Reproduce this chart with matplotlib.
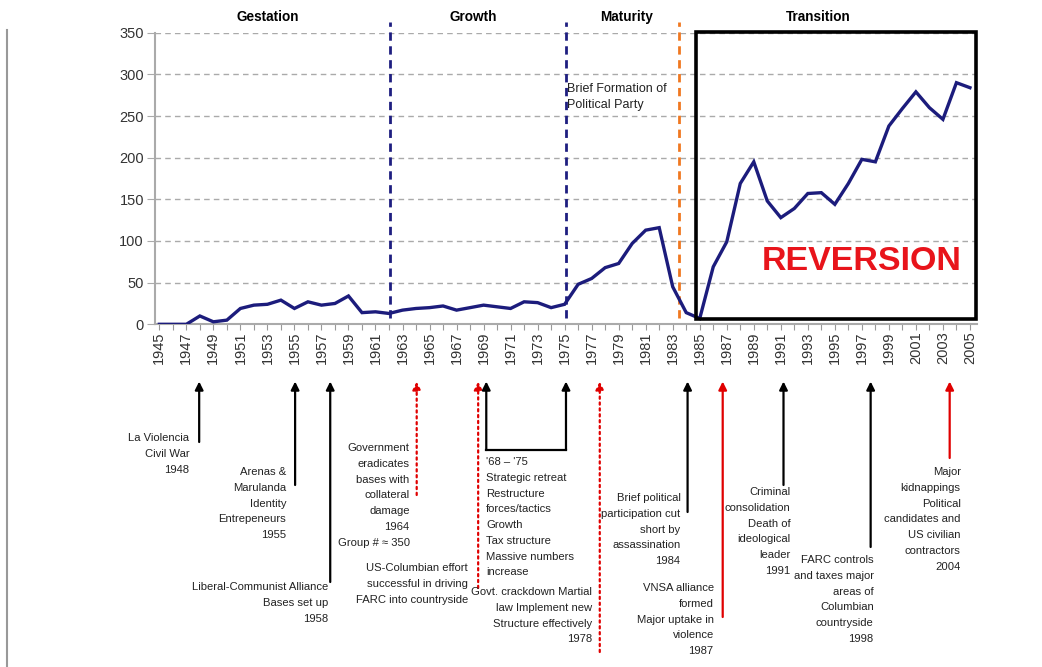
import matplotlib
matplotlib.use('Agg')
import matplotlib.pyplot as plt
from matplotlib import font_manager, transforms
from matplotlib.patches import Rectangle
from matplotlib.lines import Line2D

W, H = 1042, 667

# data
years = list(range(1945, 2006))
values = [0, 0, 0, 10, 3, 5, 19, 23, 24, 29,
          19, 27, 23, 25, 34, 14, 15, 13, 17, 19,
          20, 22, 17, 20, 23, 21, 19, 27, 26, 20,
          24, 48, 55, 68, 73, 97, 113, 116, 45, 14,
          7, 69, 99, 169, 195, 148, 128, 139, 157, 158,
          144, 169, 198, 195, 238, 259, 279, 260, 246, 290,
          284]

phases = ["Gestation", "Growth", "Maturity", "Transition"]
phase_pos = [1953.0, 1968.2, 1979.6, 1993.8]

boundaries = [1962.1, 1975.1, 1983.5]
boundary_colors = ['#1e1e80', '#1e1e80', '#f07820']

events = [
    "La Violencia\nCivil War\n1948",
    "Arenas &\nMarulanda\nIdentity\nEntrepeneurs\n1955",
    "Liberal-Communist Alliance\nBases set up\n1958",
    "Government\neradicates\nbases with\ncollateral\ndamage\n1964\nGroup # \u2248 350",
    "US-Columbian effort\nsuccessful in driving\nFARC into countryside",
    "Govt. crackdown Martial\nlaw Implement new\nStructure effectively\n1978",
    "Brief political\nparticipation cut\nshort by\nassassination\n1984",
    "VNSA alliance\nformed\nMajor uptake in\nviolence\n1987",
    "Criminal\nconsolidation\nDeath of\nideological\nleader\n1991",
    "FARC controls\nand taxes major\nareas of\nColumbian\ncountryside\n1998",
    "Major\nkidnappings\nPolitical\ncandidates and\nUS civilian\ncontractors\n2004",
]
event_x = [1947.95, 1955.05, 1957.65, 1964.05, 1968.6, 1977.6,
           1984.1, 1986.7, 1991.2, 1997.65, 2003.5]
# arrow tail (px from top), text top (px), text dx (px), colour, style
event_tail = [442, 485, 582, 495, 588, 652, 512, 617, 485, 547, 458]
event_text_top = [433, 467, 582, 443, 563, 587, 493, 583, 487, 555, 467]
event_dx = [-10, -9, -2, -7, -10, -8, -7, -9, 7, 3, 11]
event_color = ['k', 'k', 'k', 'r', 'r', 'r', 'k', 'r', 'k', 'k', 'r']
event_ls = ['-', '-', '-', ':', ':', ':', '-', '-', '-', '-', '-']

bracket_x = [1969.2, 1975.1]
bracket_text = "'68 \u2013 '75\nStrategic retreat\nRestructure\nforces/tactics\nGrowth\nTax structure\nMassive numbers\nincrease"


def pick_font(names):
    for n in names:
        try:
            font_manager.findfont(font_manager.FontProperties(family=n),
                                  fallback_to_default=False)
            return n
        except ValueError:
            pass
    return 'DejaVu Sans'

narrow = pick_font(['Liberation Sans Narrow', 'Arial Narrow'])
if narrow == 'DejaVu Sans':
    # no condensed face: shrink a normal one to the same text widths
    narrow = pick_font(['Liberation Sans'])
    tscale, nscale, lsp, blsp = 0.82, 0.85, 1.72, 1.48
else:
    tscale, nscale, lsp, blsp = 1.0, 1.0, 1.13, 1.15
regular = pick_font(['Liberation Sans', 'Arial'])

fig = plt.figure(figsize=(W / 100, H / 100), dpi=100)
ax = fig.add_axes([155 / W, 1 - 324.3 / H, (976.7 - 155) / W, (324.3 - 32.7) / H])

ax.set_xlim(1944.68, 2005.5)
ax.set_ylim(0, 350)

ax.plot(years, values, color='#1c1c7c', lw=2.4, zorder=5, solid_joinstyle='miter')

# grid
ax.set_yticks(range(0, 351, 50))
ax.yaxis.grid(True, color='#aaaaaa', lw=1, linestyle=(0, (4, 3)))
ax.set_axisbelow(True)
ax.tick_params(axis='y', length=6, color='#aaaaaa', labelsize=10.5,
               labelcolor='#333333', pad=2)
for lab in ax.get_yticklabels():
    lab.set_family(regular)

ax.set_xticks(years)
ax.set_xticklabels([str(y) if (y - 1945) % 2 == 0 else '' for y in years],
                   rotation=90, fontsize=10.5, color='#333333', family=regular)
ax.tick_params(axis='x', length=4, color='#999999', pad=1)

for s in ['top', 'right']:
    ax.spines[s].set_visible(False)
for s in ['left', 'bottom']:
    ax.spines[s].set_color('#aaaaaa')
    ax.spines[s].set_linewidth(1.5)

# phase boundaries
for bx, bc in zip(boundaries, boundary_colors):
    ax.plot([bx, bx], [7.5, 363], color=bc, lw=2, linestyle=(0, (3, 2)),
            clip_on=False, zorder=4)

# phase titles
for name, px in zip(phases, phase_pos):
    ax.text(px, 369, name, ha='center', va='center', fontsize=12 * tscale,
            fontweight='bold', family=narrow, clip_on=False)

ax.text(1975.2, 290, "Brief Formation of\nPolitical Party", ha='left', va='top',
        fontsize=11 * tscale, family=narrow, linespacing=blsp, color='#222222')

ax.add_patch(Rectangle((1984.74, 6.5), 2005.45 - 1984.74, 351 - 6.5, fill=False,
                       ec='black', lw=2.6, clip_on=False, zorder=6))
ax.text(1997.0, 75, "REVERSION", ha='center', va='center', fontsize=24.5,
        fontweight='bold', color='#e8141b', family=regular)

# events below the axis
blend = transforms.blended_transform_factory(ax.transData, fig.transFigure)
tip = 381.5
red = '#e00000'
for txt, xa, yt, ytop, dx, c, ls in zip(events, event_x, event_tail, event_text_top,
                                         event_dx, event_color, event_ls):
    col = red if c == 'r' else 'black'
    ax.annotate('', xy=(xa, 1 - tip / H), xycoords=blend,
                xytext=(xa, 1 - yt / H), textcoords=blend,
                arrowprops=dict(arrowstyle='-|>', color=col, lw=1.6, linestyle=ls,
                                mutation_scale=12, shrinkA=0, shrinkB=0),
                annotation_clip=False)
    ax.annotate(txt, xy=(xa, 1 - ytop / H), xycoords=blend,
                xytext=(dx * 0.72, 0), textcoords='offset points',
                ha='right', va='top', multialignment='right',
                fontsize=9.5 * nscale, family=narrow, linespacing=lsp,
                color='#222222', annotation_clip=False)

for bx in bracket_x:
    ax.annotate('', xy=(bx, 1 - tip / H), xycoords=blend,
                xytext=(bx, 1 - 450 / H), textcoords=blend,
                arrowprops=dict(arrowstyle='-|>', color='black', lw=1.6,
                                mutation_scale=12, shrinkA=0, shrinkB=0),
                annotation_clip=False)
ax.plot(bracket_x, [1 - 450 / H] * 2, color='black', lw=1.6, transform=blend,
        clip_on=False)
ax.annotate(bracket_text, xy=(bracket_x[0], 1 - 457 / H), xycoords=blend,
            ha='left', va='top', fontsize=9.5 * nscale, family=narrow,
            linespacing=lsp, color='#222222', annotation_clip=False)

fig.add_artist(Line2D([7 / W, 7 / W], [0, 1 - 30 / H], color='#999999', lw=1.5))

fig.savefig('out.png', dpi=100)
